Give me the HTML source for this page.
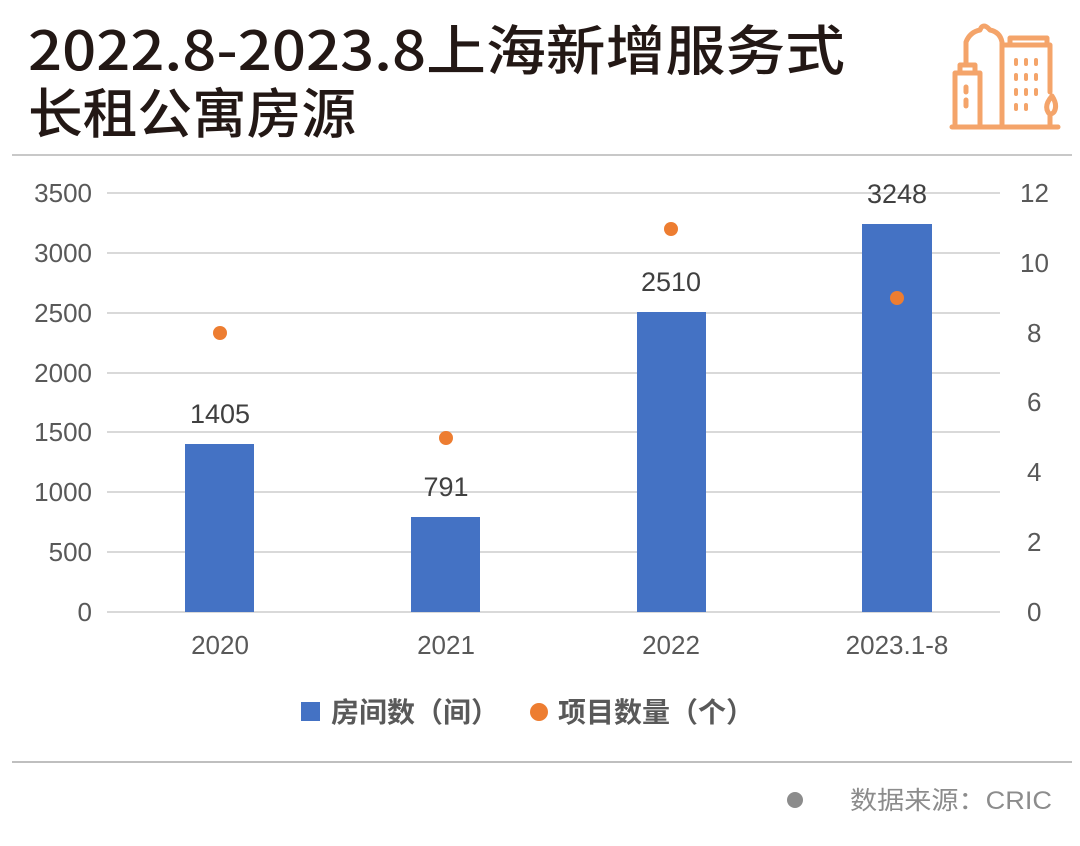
<!DOCTYPE html>
<html><head><meta charset="utf-8"><style>
body{margin:0;background:#fff;}
svg text{font-family:"Liberation Sans","Noto Sans CJK SC",sans-serif;}
</style></head><body>
<svg width="1080" height="841" viewBox="0 0 1080 841" xmlns="http://www.w3.org/2000/svg">
<rect width="1080" height="841" fill="#fff"/>
<g fill="#231815" font-size="54">
<text x="28" y="70" textLength="817" lengthAdjust="spacingAndGlyphs" style="font-family:'Noto Sans CJK SC',sans-serif;font-weight:500">2022.8-2023.8上海新增服务式</text>
<text x="28" y="133" textLength="328" lengthAdjust="spacingAndGlyphs" style="font-family:'Noto Sans CJK SC',sans-serif;font-weight:500">长租公寓房源</text>
</g>
<g fill="none" stroke="#f4a46a" stroke-width="5" stroke-linecap="round" stroke-linejoin="round">
<line x1="952" y1="127" x2="1058" y2="127"/>
<path d="M955 127 V73 H980 V127"/><path d="M960 73 V65 H975 V73"/>
<path d="M966 65 V42 Q970 32 980 30 Q983 22 990 30 Q1000 32 1002 42 V127"/>
<path d="M1003 45 H1050 V92"/><path d="M1010 45 V38 H1047 V45"/>
<path d="M1052 96 Q1058 105 1054 112 Q1050 116 1048 112 Q1044 105 1052 96 M1050 115 V127"/>
<line x1="966" y1="87" x2="966" y2="92"/><line x1="966" y1="100" x2="966" y2="106"/>
<g stroke-width="4"><line x1="1016" y1="60" x2="1016" y2="64"/><line x1="1026" y1="60" x2="1026" y2="64"/><line x1="1036" y1="60" x2="1036" y2="64"/>
<line x1="1016" y1="75" x2="1016" y2="79"/><line x1="1026" y1="75" x2="1026" y2="79"/><line x1="1036" y1="75" x2="1036" y2="79"/>
<line x1="1016" y1="90" x2="1016" y2="94"/><line x1="1026" y1="90" x2="1026" y2="94"/><line x1="1036" y1="90" x2="1036" y2="94"/>
<line x1="1016" y1="105" x2="1016" y2="109"/><line x1="1026" y1="105" x2="1026" y2="109"/></g>
</g>
<line x1="12" y1="155" x2="1072" y2="155" stroke="#c8c8c8" stroke-width="2"/>
<g stroke="#d9d9d9" stroke-width="2">
<line x1="107" y1="193" x2="1000" y2="193"/><line x1="107" y1="253" x2="1000" y2="253"/>
<line x1="107" y1="313" x2="1000" y2="313"/><line x1="107" y1="373" x2="1000" y2="373"/>
<line x1="107" y1="432" x2="1000" y2="432"/><line x1="107" y1="492" x2="1000" y2="492"/>
<line x1="107" y1="552" x2="1000" y2="552"/><line x1="107" y1="612" x2="1000" y2="612"/>
</g>
<g fill="#595959" font-size="26" text-anchor="end">
<text x="92" y="202">3500</text><text x="92" y="262">3000</text><text x="92" y="322">2500</text>
<text x="92" y="382">2000</text><text x="92" y="441">1500</text><text x="92" y="501">1000</text>
<text x="92" y="561">500</text><text x="92" y="621">0</text>
</g>
<g fill="#595959" font-size="26">
<text x="1020" y="202">12</text><text x="1020" y="272">10</text><text x="1027" y="342">8</text>
<text x="1027" y="411">6</text><text x="1027" y="481">4</text><text x="1027" y="551">2</text><text x="1027" y="621">0</text>
</g>
<g fill="#4472c4">
<rect x="185" y="444" width="69" height="168"/><rect x="411" y="517" width="69" height="95"/>
<rect x="637" y="312" width="69" height="300"/><rect x="862" y="224" width="70" height="388"/>
</g>
<g fill="#404040" font-size="27" text-anchor="middle" style="font-weight:500">
<text x="220" y="423">1405</text><text x="446" y="496">791</text>
<text x="671" y="291">2510</text><text x="897" y="203">3248</text>
</g>
<g fill="#ed7d31">
<circle cx="220" cy="333" r="7"/><circle cx="446" cy="438" r="7"/>
<circle cx="671" cy="229" r="7"/><circle cx="897" cy="298" r="7"/>
</g>
<g fill="#595959" font-size="26" text-anchor="middle">
<text x="220" y="654">2020</text><text x="446" y="654">2021</text>
<text x="671" y="654">2022</text><text x="897" y="654">2023.1-8</text>
</g>
<rect x="301" y="702" width="19" height="19" fill="#4472c4"/>
<text x="331" y="722" font-size="28" font-weight="bold" fill="#595959">房间数（间）</text>
<circle cx="539" cy="712" r="9" fill="#ed7d31"/>
<text x="558" y="722" font-size="28" font-weight="bold" fill="#595959">项目数量（个）</text>
<line x1="12" y1="762" x2="1072" y2="762" stroke="#bfbfbf" stroke-width="2"/>
<circle cx="795" cy="800" r="8" fill="#8c8c8c"/>
<text x="850" y="809" font-size="25" fill="#8c8c8c" textLength="202" lengthAdjust="spacingAndGlyphs">数据来源：CRIC</text>
</svg>
</body></html>
